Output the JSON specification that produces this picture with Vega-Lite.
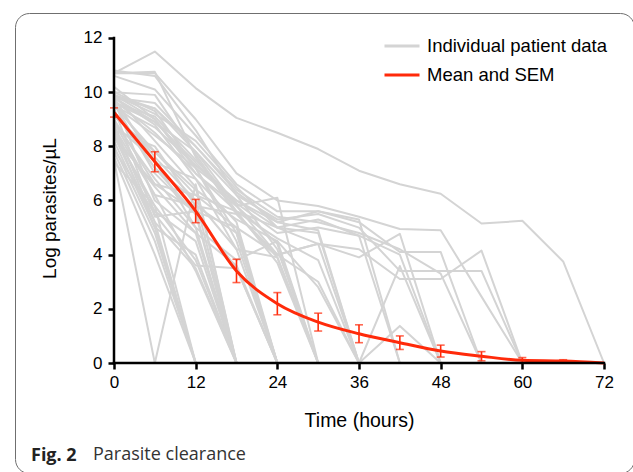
{
  "$schema": "https://vega.github.io/schema/vega-lite/v6.json",
  "autosize": {"type": "pad"},
  "padding": {"left": 14, "top": 12, "right": 0, "bottom": 0},
  "background": "white",
  "title": {
    "text": "Fig. 2",
    "orient": "bottom",
    "anchor": "start",
    "frame": "group",
    "offset": -27,
    "dx": 16,
    "font": "Open Sans",
    "fontSize": 18,
    "fontWeight": "bold",
    "color": "#222222"
  },
  "datasets": {
    "patients": [
      {"p":1,"t":0,"v":7.5},{"p":1,"t":6,"v":0},{"p":1,"t":12,"v":6.6},{"p":1,"t":18,"v":0},
      {"p":2,"t":0,"v":8.0},{"p":2,"t":6,"v":4.8},{"p":2,"t":12,"v":0},
      {"p":3,"t":0,"v":7.6},{"p":3,"t":6,"v":4.0},{"p":3,"t":12,"v":0},
      {"p":4,"t":0,"v":8.8},{"p":4,"t":6,"v":5.2},{"p":4,"t":12,"v":0},
      {"p":5,"t":0,"v":8.6},{"p":5,"t":6,"v":5.0},{"p":5,"t":12,"v":0},
      {"p":6,"t":0,"v":7.8},{"p":6,"t":6,"v":4.5},{"p":6,"t":12,"v":0},
      {"p":7,"t":0,"v":8.5},{"p":7,"t":6,"v":5.8},{"p":7,"t":12,"v":0},
      {"p":8,"t":0,"v":8.9},{"p":8,"t":6,"v":6.8},{"p":8,"t":12,"v":5.0},{"p":8,"t":18,"v":0},
      {"p":9,"t":0,"v":8.2},{"p":9,"t":6,"v":5.0},{"p":9,"t":12,"v":4.0},{"p":9,"t":18,"v":0},
      {"p":10,"t":0,"v":9.3},{"p":10,"t":6,"v":7.2},{"p":10,"t":12,"v":5.5},{"p":10,"t":18,"v":0},
      {"p":11,"t":0,"v":8.4},{"p":11,"t":6,"v":5.2},{"p":11,"t":12,"v":3.5},{"p":11,"t":18,"v":0},
      {"p":12,"t":0,"v":8.6},{"p":12,"t":6,"v":5.6},{"p":12,"t":12,"v":4.5},{"p":12,"t":18,"v":0},
      {"p":13,"t":0,"v":9.6},{"p":13,"t":6,"v":7.6},{"p":13,"t":12,"v":6.0},{"p":13,"t":18,"v":0},
      {"p":14,"t":0,"v":7.4},{"p":14,"t":6,"v":5.8},{"p":14,"t":12,"v":3.8},{"p":14,"t":18,"v":0},
      {"p":15,"t":0,"v":9.7},{"p":15,"t":6,"v":6.0},{"p":15,"t":12,"v":4.8},{"p":15,"t":18,"v":0},
      {"p":16,"t":0,"v":8.9},{"p":16,"t":6,"v":6.2},{"p":16,"t":12,"v":3.4},{"p":16,"t":18,"v":0},
      {"p":17,"t":0,"v":9.9},{"p":17,"t":6,"v":8.2},{"p":17,"t":12,"v":6.5},{"p":17,"t":18,"v":0},
      {"p":18,"t":0,"v":9.4},{"p":18,"t":6,"v":5.4},{"p":18,"t":12,"v":5.6},{"p":18,"t":18,"v":0},
      {"p":19,"t":0,"v":9.5},{"p":19,"t":6,"v":8.4},{"p":19,"t":12,"v":7.2},{"p":19,"t":18,"v":4.5},{"p":19,"t":24,"v":0},
      {"p":20,"t":0,"v":9.6},{"p":20,"t":6,"v":7.0},{"p":20,"t":12,"v":5.5},{"p":20,"t":18,"v":3.5},{"p":20,"t":24,"v":0},
      {"p":21,"t":0,"v":8.4},{"p":21,"t":6,"v":6.5},{"p":21,"t":12,"v":4.8},{"p":21,"t":18,"v":3.6},{"p":21,"t":24,"v":0},
      {"p":22,"t":0,"v":10.0},{"p":22,"t":6,"v":9.3},{"p":22,"t":12,"v":7.2},{"p":22,"t":18,"v":4.8},{"p":22,"t":24,"v":0},
      {"p":23,"t":0,"v":9.0},{"p":23,"t":6,"v":6.6},{"p":23,"t":12,"v":6.2},{"p":23,"t":18,"v":5.0},{"p":23,"t":24,"v":0},
      {"p":24,"t":0,"v":7.9},{"p":24,"t":6,"v":5.5},{"p":24,"t":12,"v":3.6},{"p":24,"t":18,"v":3.5},{"p":24,"t":24,"v":0},
      {"p":25,"t":0,"v":9.8},{"p":25,"t":6,"v":8.8},{"p":25,"t":12,"v":6.8},{"p":25,"t":18,"v":5.2},{"p":25,"t":24,"v":0},
      {"p":26,"t":0,"v":9.8},{"p":26,"t":6,"v":7.4},{"p":26,"t":12,"v":6.8},{"p":26,"t":18,"v":4.2},{"p":26,"t":24,"v":0},
      {"p":27,"t":0,"v":8.7},{"p":27,"t":6,"v":6.2},{"p":27,"t":12,"v":5.8},{"p":27,"t":18,"v":4.8},{"p":27,"t":24,"v":0},
      {"p":28,"t":0,"v":10.7},{"p":28,"t":6,"v":10.75},{"p":28,"t":12,"v":7.6},{"p":28,"t":18,"v":5.5},{"p":28,"t":24,"v":3.9},{"p":28,"t":30,"v":0},
      {"p":29,"t":0,"v":9.9},{"p":29,"t":6,"v":9.0},{"p":29,"t":12,"v":7.0},{"p":29,"t":18,"v":5.8},{"p":29,"t":24,"v":6.1},{"p":29,"t":30,"v":0},
      {"p":30,"t":0,"v":9.3},{"p":30,"t":6,"v":7.2},{"p":30,"t":12,"v":6.0},{"p":30,"t":18,"v":4.2},{"p":30,"t":24,"v":3.9},{"p":30,"t":30,"v":0},
      {"p":31,"t":0,"v":9.6},{"p":31,"t":6,"v":8.9},{"p":31,"t":12,"v":7.8},{"p":31,"t":18,"v":5.8},{"p":31,"t":24,"v":4.4},{"p":31,"t":30,"v":0},
      {"p":32,"t":0,"v":8.8},{"p":32,"t":6,"v":7.5},{"p":32,"t":12,"v":5.0},{"p":32,"t":18,"v":3.8},{"p":32,"t":24,"v":4.5},{"p":32,"t":30,"v":0},
      {"p":33,"t":0,"v":10.8},{"p":33,"t":6,"v":10.6},{"p":33,"t":12,"v":8.6},{"p":33,"t":18,"v":6.2},{"p":33,"t":24,"v":4.2},{"p":33,"t":30,"v":0},
      {"p":34,"t":0,"v":9.5},{"p":34,"t":6,"v":7.8},{"p":34,"t":12,"v":6.2},{"p":34,"t":18,"v":5.6},{"p":34,"t":24,"v":3.7},{"p":34,"t":30,"v":0},
      {"p":35,"t":0,"v":9.9},{"p":35,"t":6,"v":9.2},{"p":35,"t":12,"v":8.2},{"p":35,"t":18,"v":6.5},{"p":35,"t":24,"v":5.0},{"p":35,"t":30,"v":4.8},{"p":35,"t":36,"v":0},
      {"p":36,"t":0,"v":9.7},{"p":36,"t":6,"v":8.5},{"p":36,"t":12,"v":7.0},{"p":36,"t":18,"v":5.6},{"p":36,"t":24,"v":4.6},{"p":36,"t":30,"v":3.8},{"p":36,"t":36,"v":0},
      {"p":37,"t":0,"v":9.5},{"p":37,"t":6,"v":8.7},{"p":37,"t":12,"v":7.3},{"p":37,"t":18,"v":6.0},{"p":37,"t":24,"v":5.2},{"p":37,"t":30,"v":4.9},{"p":37,"t":36,"v":0},
      {"p":38,"t":0,"v":8.6},{"p":38,"t":6,"v":8.0},{"p":38,"t":12,"v":5.8},{"p":38,"t":18,"v":5.5},{"p":38,"t":24,"v":4.0},{"p":38,"t":30,"v":4.4},{"p":38,"t":36,"v":0},
      {"p":39,"t":0,"v":9.1},{"p":39,"t":6,"v":7.8},{"p":39,"t":12,"v":6.4},{"p":39,"t":18,"v":5.3},{"p":39,"t":24,"v":4.5},{"p":39,"t":30,"v":2.8},{"p":39,"t":36,"v":0},{"p":39,"t":42,"v":3.58},{"p":39,"t":48,"v":0},
      {"p":40,"t":0,"v":8.3},{"p":40,"t":6,"v":6.6},{"p":40,"t":12,"v":5.6},{"p":40,"t":18,"v":5.0},{"p":40,"t":24,"v":4.0},{"p":40,"t":30,"v":3.0},{"p":40,"t":36,"v":0},{"p":40,"t":42,"v":1.37},{"p":40,"t":48,"v":0},
      {"p":41,"t":0,"v":9.8},{"p":41,"t":6,"v":9.4},{"p":41,"t":12,"v":8.0},{"p":41,"t":18,"v":6.3},{"p":41,"t":24,"v":5.2},{"p":41,"t":30,"v":5.6},{"p":41,"t":36,"v":5.3},{"p":41,"t":42,"v":0},
      {"p":42,"t":0,"v":9.6},{"p":42,"t":6,"v":9.1},{"p":42,"t":12,"v":7.5},{"p":42,"t":18,"v":5.9},{"p":42,"t":24,"v":4.8},{"p":42,"t":30,"v":5.0},{"p":42,"t":36,"v":4.7},{"p":42,"t":42,"v":0},
      {"p":43,"t":0,"v":9.8},{"p":43,"t":6,"v":8.9},{"p":43,"t":12,"v":7.4},{"p":43,"t":18,"v":5.8},{"p":43,"t":24,"v":4.0},{"p":43,"t":30,"v":4.4},{"p":43,"t":36,"v":3.9},{"p":43,"t":42,"v":4.77},{"p":43,"t":48,"v":0},
      {"p":44,"t":0,"v":10.0},{"p":44,"t":6,"v":9.9},{"p":44,"t":12,"v":7.7},{"p":44,"t":18,"v":5.6},{"p":44,"t":24,"v":5.0},{"p":44,"t":30,"v":5.3},{"p":44,"t":36,"v":4.7},{"p":44,"t":42,"v":4.0},{"p":44,"t":48,"v":0},
      {"p":45,"t":0,"v":10.6},{"p":45,"t":6,"v":10.1},{"p":45,"t":12,"v":8.4},{"p":45,"t":18,"v":6.6},{"p":45,"t":24,"v":5.6},{"p":45,"t":30,"v":5.6},{"p":45,"t":36,"v":5.2},{"p":45,"t":42,"v":4.1},{"p":45,"t":48,"v":4.1},{"p":45,"t":54,"v":0},
      {"p":46,"t":0,"v":10.7},{"p":46,"t":6,"v":10.7},{"p":46,"t":12,"v":9.0},{"p":46,"t":18,"v":7.0},{"p":46,"t":24,"v":6.0},{"p":46,"t":30,"v":5.8},{"p":46,"t":36,"v":5.4},{"p":46,"t":42,"v":4.95},{"p":46,"t":48,"v":4.9},{"p":46,"t":54,"v":2.45},{"p":46,"t":60,"v":0},
      {"p":47,"t":0,"v":9.9},{"p":47,"t":6,"v":9.4},{"p":47,"t":12,"v":7.8},{"p":47,"t":18,"v":6.2},{"p":47,"t":24,"v":5.3},{"p":47,"t":30,"v":5.5},{"p":47,"t":36,"v":5.0},{"p":47,"t":42,"v":3.4},{"p":47,"t":48,"v":3.4},{"p":47,"t":54,"v":3.4},{"p":47,"t":60,"v":0},
      {"p":48,"t":0,"v":10.2},{"p":48,"t":6,"v":9.0},{"p":48,"t":12,"v":7.2},{"p":48,"t":18,"v":6.0},{"p":48,"t":24,"v":5.0},{"p":48,"t":30,"v":4.4},{"p":48,"t":36,"v":4.2},{"p":48,"t":42,"v":3.1},{"p":48,"t":48,"v":3.1},{"p":48,"t":54,"v":4.15},{"p":48,"t":60,"v":0},
      {"p":49,"t":0,"v":9.8},{"p":49,"t":6,"v":9.6},{"p":49,"t":12,"v":8.0},{"p":49,"t":18,"v":6.4},{"p":49,"t":24,"v":5.4},{"p":49,"t":30,"v":5.2},{"p":49,"t":36,"v":4.8},{"p":49,"t":42,"v":4.2},{"p":49,"t":48,"v":3.3},{"p":49,"t":54,"v":0},
      {"p":50,"t":0,"v":10.7},{"p":50,"t":6,"v":11.5},{"p":50,"t":12,"v":10.15},{"p":50,"t":18,"v":9.05},{"p":50,"t":24,"v":8.5},{"p":50,"t":30,"v":7.9},{"p":50,"t":36,"v":7.1},{"p":50,"t":42,"v":6.6},{"p":50,"t":48,"v":6.25},{"p":50,"t":54,"v":5.15},{"p":50,"t":60,"v":5.25},{"p":50,"t":66,"v":3.75},{"p":50,"t":72,"v":0}
    ],
    "mean": [
      {"t":0,"v":9.25,"lo":9.08,"hi":9.42},
      {"t":6,"v":7.43,"lo":7.06,"hi":7.8},
      {"t":12,"v":5.61,"lo":5.18,"hi":6.04},
      {"t":18,"v":3.4,"lo":2.97,"hi":3.83},
      {"t":24,"v":2.19,"lo":1.78,"hi":2.6},
      {"t":30,"v":1.51,"lo":1.18,"hi":1.84},
      {"t":36,"v":1.08,"lo":0.75,"hi":1.41},
      {"t":42,"v":0.75,"lo":0.5,"hi":1.0},
      {"t":48,"v":0.44,"lo":0.22,"hi":0.66},
      {"t":54,"v":0.25,"lo":0.08,"hi":0.42},
      {"t":60,"v":0.1,"lo":0.0,"hi":0.2},
      {"t":66,"v":0.07,"lo":0.02,"hi":0.12},
      {"t":72,"v":0.0,"lo":0.0,"hi":0.0}
    ]
  },
  "vconcat": [
    {
      "width": 619,
      "height": 460,
      "title": {
        "text": "Parasite clearance",
        "orient": "bottom",
        "anchor": "start",
        "frame": "group",
        "offset": -27,
        "dx": 78,
        "font": "Open Sans",
        "fontSize": 18,
        "fontWeight": "normal",
        "color": "#333333"
      },
      "layer": [
        {
          "data": {"name": "patients"},
          "mark": {"type": "line", "strokeWidth": 2, "strokeJoin": "round"},
          "encoding": {
            "x": {
              "field": "t", "type": "quantitative", "title": "Time (hours)",
              "scale": {"domain": [-14.547, 76.408], "nice": false, "zero": false},
              "axis": {
                "values": [0, 12, 24, 36, 48, 60, 72],
                "offset": -110,
                "domain": false,
                "grid": false,
                "tickSize": 6,
                "tickWidth": 2.5,
                "tickColor": "black",
                "labelFont": "Liberation Sans",
                "labelFontSize": 17,
                "labelColor": "black",
                "labelPadding": 5,
                "labelFlush": false,
                "titleFont": "Liberation Sans",
                "titleFontSize": 19.5,
                "titleFontWeight": "normal",
                "titleColor": "black",
                "titleX": 344,
                "titleY": 63,
                "titleAlign": "center",
                "titleBaseline": "alphabetic"
              }
            },
            "y": {
              "field": "v", "type": "quantitative", "title": "Log parasites/µL",
              "scale": {"domain": [-4.0615, 12.923], "nice": false, "zero": false},
              "axis": {
                "values": [0, 2, 4, 6, 8, 10, 12],
                "offset": -99,
                "domain": false,
                "grid": false,
                "tickSize": 6,
                "tickWidth": 2.5,
                "tickColor": "black",
                "labelFont": "Liberation Sans",
                "labelFontSize": 17,
                "labelColor": "black",
                "labelPadding": 6,
                "labelFlush": false,
                "titleFont": "Liberation Sans",
                "titleFontSize": 19,
                "titleFontWeight": "normal",
                "titleColor": "black",
                "titleAngle": -90,
                "titleX": -59,
                "titleY": 195,
                "titleAlign": "center",
                "titleBaseline": "alphabetic"
              }
            },
            "detail": {"field": "p", "type": "nominal"},
            "color": {
              "datum": "Individual patient data",
              "scale": {"domain": ["Individual patient data", "Mean and SEM"], "range": ["#d4d4d4", "#ff2a0a"]},
              "legend": {
                "orient": "none",
                "legendX": 368,
                "legendY": 14,
                "title": null,
                "padding": 0,
                "symbolType": "stroke",
                "symbolSize": 1225,
                "symbolStrokeWidth": 3,
                "labelFont": "Liberation Sans",
                "labelFontSize": 18.5,
                "labelColor": "black",
                "labelLimit": 300,
                "labelOffset": 6,
                "rowPadding": -16
              }
            }
          }
        },
        {
          "data": {"name": "mean"},
          "mark": {"type": "line", "strokeWidth": 3, "interpolate": "monotone"},
          "encoding": {
            "x": {"field": "t", "type": "quantitative", "title": "Time (hours)"},
            "y": {"field": "v", "type": "quantitative", "title": "Log parasites/µL"},
            "color": {"datum": "Mean and SEM"}
          }
        },
        {
          "data": {"name": "mean"},
          "transform": [{"filter": "datum.t < 72"}],
          "mark": {"type": "errorbar", "color": "#ff2a0a", "thickness": 1.6, "ticks": {"size": 8, "thickness": 1.6}},
          "encoding": {
            "x": {"field": "t", "type": "quantitative", "title": "Time (hours)"},
            "y": {"field": "lo", "type": "quantitative", "title": "Log parasites/µL"},
            "y2": {"field": "hi"}
          }
        },
        {
          "data": {"values": [{"t": 0, "t2": 72, "v": 0}]},
          "mark": {"type": "rule", "color": "black", "strokeWidth": 2.5, "strokeCap": "square"},
          "encoding": {
            "x": {"field": "t", "type": "quantitative", "title": "Time (hours)"},
            "x2": {"field": "t2"},
            "y": {"field": "v", "type": "quantitative", "title": "Log parasites/µL"}
          }
        },
        {
          "data": {"values": [{"t": 0, "v": 0, "v2": 12}]},
          "mark": {"type": "rule", "color": "black", "strokeWidth": 2.5, "strokeCap": "square"},
          "encoding": {
            "x": {"field": "t", "type": "quantitative", "title": "Time (hours)"},
            "y": {"field": "v", "type": "quantitative", "title": "Log parasites/µL"},
            "y2": {"field": "v2"}
          }
        }
      ]
    }
  ],
  "config": {
    "view": {"stroke": "#6f6f6f", "strokeWidth": 1, "cornerRadius": 14, "fill": "white"}
  }
}
